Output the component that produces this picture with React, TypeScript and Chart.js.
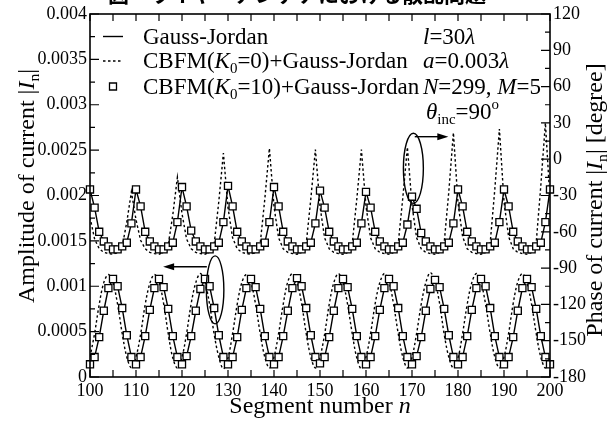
import React, { useEffect, useRef } from 'react';
import { Chart, registerables } from 'chart.js';

Chart.register(...registerables);

// ---------------- data ----------------
const segments = [
  100, 101, 102, 103, 104, 105, 106, 107, 108, 109,
  110, 111, 112, 113, 114, 115, 116, 117, 118, 119,
  120, 121, 122, 123, 124, 125, 126, 127, 128, 129,
  130, 131, 132, 133, 134, 135, 136, 137, 138, 139,
  140, 141, 142, 143, 144, 145, 146, 147, 148, 149,
  150, 151, 152, 153, 154, 155, 156, 157, 158, 159,
  160, 161, 162, 163, 164, 165, 166, 167, 168, 169,
  170, 171, 172, 173, 174, 175, 176, 177, 178, 179,
  180, 181, 182, 183, 184, 185, 186, 187, 188, 189,
  190, 191, 192, 193, 194, 195, 196, 197, 198, 199,
  200,
];

// Amplitude |I_n| (left axis)
const gjAmplitude = [
  0.00014, 0.00022, 0.00044, 0.00073, 0.00098, 0.00108, 0.00100, 0.00076, 0.00046, 0.00022,
  0.00014, 0.00022, 0.00045, 0.00074, 0.00098, 0.00108, 0.00099, 0.00075, 0.00045, 0.00022,
  0.00014, 0.00023, 0.00045, 0.00073, 0.00097, 0.00108, 0.00100, 0.00076, 0.00046, 0.00022,
  0.00014, 0.00022, 0.00044, 0.00074, 0.00098, 0.00108, 0.00099, 0.00075, 0.00045, 0.00022,
  0.00014, 0.00022, 0.00045, 0.00073, 0.00098, 0.00109, 0.00100, 0.00076, 0.00046, 0.00022,
  0.00015, 0.00022, 0.00044, 0.00073, 0.00098, 0.00108, 0.00099, 0.00075, 0.00045, 0.00022,
  0.00014, 0.00022, 0.00045, 0.00074, 0.00098, 0.00108, 0.00100, 0.00076, 0.00045, 0.00022,
  0.00014, 0.00023, 0.00044, 0.00073, 0.00097, 0.00107, 0.00099, 0.00075, 0.00046, 0.00022,
  0.00014, 0.00022, 0.00045, 0.00074, 0.00098, 0.00108, 0.00100, 0.00076, 0.00045, 0.00022,
  0.00014, 0.00022, 0.00044, 0.00073, 0.00098, 0.00108, 0.00099, 0.00075, 0.00045, 0.00022,
  0.00014,
];

const cbfm0Amplitude = [
  0.00022, 0.00048, 0.00080, 0.00104, 0.00113, 0.00104, 0.00080, 0.00048, 0.00022, 0.00010,
  0.00022, 0.00047, 0.00080, 0.00103, 0.00113, 0.00105, 0.00081, 0.00048, 0.00021, 0.00010,
  0.00022, 0.00048, 0.00081, 0.00104, 0.00114, 0.00104, 0.00080, 0.00047, 0.00022, 0.00009,
  0.00021, 0.00048, 0.00080, 0.00104, 0.00113, 0.00104, 0.00080, 0.00048, 0.00022, 0.00010,
  0.00022, 0.00048, 0.00080, 0.00105, 0.00114, 0.00105, 0.00081, 0.00048, 0.00022, 0.00010,
  0.00022, 0.00047, 0.00080, 0.00104, 0.00114, 0.00104, 0.00080, 0.00048, 0.00021, 0.00009,
  0.00022, 0.00048, 0.00081, 0.00104, 0.00114, 0.00105, 0.00080, 0.00048, 0.00022, 0.00010,
  0.00022, 0.00048, 0.00080, 0.00104, 0.00115, 0.00105, 0.00081, 0.00047, 0.00022, 0.00010,
  0.00021, 0.00048, 0.00080, 0.00104, 0.00114, 0.00104, 0.00080, 0.00048, 0.00022, 0.00010,
  0.00022, 0.00048, 0.00081, 0.00105, 0.00114, 0.00104, 0.00080, 0.00048, 0.00022, 0.00010,
  0.00022,
];

const cbfm10Amplitude = [
  0.00014, 0.00022, 0.00044, 0.00073, 0.00098, 0.00108, 0.00100, 0.00076, 0.00046, 0.00022,
  0.00014, 0.00022, 0.00045, 0.00074, 0.00098, 0.00108, 0.00099, 0.00075, 0.00045, 0.00022,
  0.00014, 0.00023, 0.00045, 0.00073, 0.00097, 0.00108, 0.00100, 0.00076, 0.00046, 0.00022,
  0.00014, 0.00022, 0.00044, 0.00074, 0.00098, 0.00108, 0.00099, 0.00075, 0.00045, 0.00022,
  0.00014, 0.00022, 0.00045, 0.00073, 0.00098, 0.00109, 0.00100, 0.00076, 0.00046, 0.00022,
  0.00015, 0.00022, 0.00044, 0.00073, 0.00098, 0.00108, 0.00099, 0.00075, 0.00045, 0.00022,
  0.00014, 0.00022, 0.00045, 0.00074, 0.00098, 0.00108, 0.00100, 0.00076, 0.00045, 0.00022,
  0.00014, 0.00023, 0.00044, 0.00073, 0.00097, 0.00107, 0.00099, 0.00075, 0.00046, 0.00022,
  0.00014, 0.00022, 0.00045, 0.00074, 0.00098, 0.00108, 0.00100, 0.00076, 0.00045, 0.00022,
  0.00014, 0.00022, 0.00044, 0.00073, 0.00098, 0.00108, 0.00099, 0.00075, 0.00045, 0.00022,
  0.00014,
];

// Phase of I_n in degrees (right axis)
const gjPhase = [
  -25, -40, -60, -68, -72, -74.5, -74.5, -72, -69, -53,
  -25, -39, -60, -68, -72, -74.5, -74.5, -72, -69, -52,
  -23, -39, -59, -68, -72, -74.5, -74.5, -72, -69, -52,
  -22, -39, -60, -68, -72, -74.5, -74.5, -72, -69, -52,
  -23, -39, -60, -68, -72, -74.5, -74.5, -72, -69, -53,
  -26, -40, -60, -68, -72, -74.5, -74.5, -72, -69, -53,
  -27, -40, -60, -68, -72, -74.5, -74.5, -72, -69, -54,
  -31, -41, -61, -68, -72, -74.5, -74.5, -72, -69, -53,
  -25, -39, -60, -68, -72, -74.5, -74.5, -72, -69, -52,
  -25, -39, -60, -68, -72, -74.5, -74.5, -72, -69, -52,
  -25,
];

const cbfm0Phase = [
  -48, -66, -74, -77, -78, -78.5, -77, -72, -52, -27,
  -50, -67, -74, -77, -78, -78.5, -77, -71, -46, -15,
  -45, -66, -74, -77, -78, -78.5, -77, -70, -35, 5,
  -40, -65, -74, -77, -78, -78.5, -77, -70, -33, 9,
  -39, -65, -74, -77, -78, -78.5, -77, -70, -33, 8,
  -39, -65, -74, -77, -78, -78.5, -77, -70, -33, 8,
  -39, -65, -74, -77, -78, -78.5, -77, -70, -32, 10,
  -38, -65, -74, -77, -78, -78.5, -77, -69, -27, 22,
  -36, -64, -74, -77, -78, -78.5, -77, -69, -25, 25,
  -35, -64, -74, -77, -78, -78.5, -77, -69, -22, 30,
  -34,
];

const cbfm10Phase = [
  -25, -40, -60, -68, -72, -74.5, -74.5, -72, -69, -53,
  -25, -39, -60, -68, -72, -74.5, -74.5, -72, -69, -52,
  -23, -39, -59, -68, -72, -74.5, -74.5, -72, -69, -52,
  -22, -39, -60, -68, -72, -74.5, -74.5, -72, -69, -52,
  -23, -39, -60, -68, -72, -74.5, -74.5, -72, -69, -53,
  -26, -40, -60, -68, -72, -74.5, -74.5, -72, -69, -53,
  -27, -40, -60, -68, -72, -74.5, -74.5, -72, -69, -54,
  -31, -41, -61, -68, -72, -74.5, -74.5, -72, -69, -53,
  -25, -39, -60, -68, -72, -74.5, -74.5, -72, -69, -52,
  -25, -39, -60, -68, -72, -74.5, -74.5, -72, -69, -52,
  -25,
];

// axes
const xMin = 100, xMax = 200, xStep = 10, xMinorStep = 5;
const ampMin = 0, ampMax = 0.004, ampStep = 0.0005, ampMinorStep = 0.00025;
const phMin = -180, phMax = 120, phStep = 30, phMinorStep = 15;

// texts
const legendLabels = [
  [{ t: 'Gauss-Jordan' }],
  [{ t: 'CBFM(' }, { t: 'K', i: true }, { t: '0', sub: true }, { t: '=0)+Gauss-Jordan' }],
  [{ t: 'CBFM(' }, { t: 'K', i: true }, { t: '0', sub: true }, { t: '=10)+Gauss-Jordan' }],
];
const paramLines = [
  [{ t: 'l', i: true }, { t: '=30' }, { t: 'λ', i: true }],
  [{ t: 'a', i: true }, { t: '=0.003' }, { t: 'λ', i: true }],
  [{ t: 'N', i: true }, { t: '=299, ' }, { t: 'M', i: true }, { t: '=5' }],
  [{ t: 'θ', i: true }, { t: 'inc', sub: true }, { t: '=90' }, { t: 'o', sup: true }],
];
const xTitle = [{ t: 'Segment number ' }, { t: 'n', i: true }];
const yTitle = [{ t: 'Amplitude of current |' }, { t: 'I', i: true }, { t: 'n', sub: true }, { t: '|' }];
const y1Title = [{ t: 'Phase of current |' }, { t: 'I', i: true }, { t: 'n', sub: true }, { t: '| [degree]' }];
const figTitle = '図　ワイヤーアンテナにおける散乱問題';

// annotation anchors (data space)
const phaseEllipse = { n: 170.3, v: -7.5, rn: 2.17, rv: 29, arrowV: 18.6, arrowFrom: 170.6, arrowTo: 177.9 };
const ampEllipse = { n: 127.2, v: 0.00096, rn: 1.9, rv: 0.000375, arrowV: 0.001215, arrowFrom: 125.4, arrowTo: 115.9 };

const SERIF = '"Liberation Serif", "Times New Roman", serif';

type Part = { t: string; i?: boolean; sub?: boolean; sup?: boolean };

function setFont(ctx: CanvasRenderingContext2D, p: Part, size: number) {
  const fs = p.sub || p.sup ? size * 0.65 : size;
  ctx.font = `${p.i ? 'italic ' : ''}${fs}px ${SERIF}`;
}
function richWidth(ctx: CanvasRenderingContext2D, parts: Part[], size: number) {
  let w = 0;
  for (const p of parts) {
    setFont(ctx, p, size);
    w += ctx.measureText(p.t).width;
  }
  return w;
}
function drawRich(ctx: CanvasRenderingContext2D, parts: Part[], x: number, y: number, size: number) {
  ctx.textAlign = 'left';
  ctx.textBaseline = 'alphabetic';
  for (const p of parts) {
    setFont(ctx, p, size);
    const dy = p.sub ? size * 0.22 : p.sup ? -size * 0.42 : 0;
    ctx.fillText(p.t, x, y + dy);
    x += ctx.measureText(p.t).width;
  }
  return x;
}

const overlay = {
  id: 'overlay',
  afterDatasetsDraw(chart: any) {
    const { ctx, chartArea: ca, scales } = chart;
    const sx = scales.x, sy = scales.y, sy1 = scales.y1;
    ctx.save();
    ctx.strokeStyle = '#000';
    ctx.fillStyle = '#000';
    ctx.setLineDash([]);

    // frame
    ctx.lineWidth = 1.6;
    ctx.strokeRect(ca.left, ca.top, ca.right - ca.left, ca.bottom - ca.top);

    // inward ticks
    ctx.lineWidth = 1.2;
    ctx.beginPath();
    for (let v = xMin; v <= xMax + 1e-9; v += xMinorStep) {
      const px = sx.getPixelForValue(v);
      ctx.moveTo(px, ca.bottom); ctx.lineTo(px, ca.bottom - 7);
      ctx.moveTo(px, ca.top); ctx.lineTo(px, ca.top + 7);
    }
    for (let k = 0; ampMin + k * ampMinorStep <= ampMax + 1e-12; k++) {
      const v = ampMin + k * ampMinorStep;
      const py = sy.getPixelForValue(v);
      const len = k % 2 === 0 ? 9 : 5;
      ctx.moveTo(ca.left, py); ctx.lineTo(ca.left + len, py);
    }
    for (let k = 0; phMin + k * phMinorStep <= phMax + 1e-9; k++) {
      const v = phMin + k * phMinorStep;
      const py = sy1.getPixelForValue(v);
      const len = k % 2 === 0 ? 9 : 5;
      ctx.moveTo(ca.right, py); ctx.lineTo(ca.right - len, py);
    }
    ctx.stroke();

    // legend
    const legendSize = 23;
    const legendX = 143;
    const rowBase = [43.5, 68, 93.5, 119];
    legendLabels.forEach((parts, i) => {
      const by = rowBase[i];
      const my = by - 7;
      ctx.fillStyle = '#000';
      drawRich(ctx, parts as Part[], legendX, by, legendSize);
      ctx.lineWidth = 1.4;
      ctx.beginPath();
      if (i === 0) {
        ctx.setLineDash([]);
        ctx.moveTo(103, my); ctx.lineTo(123, my); ctx.stroke();
      } else if (i === 1) {
        ctx.setLineDash([2.5, 2.5]);
        ctx.moveTo(103, my); ctx.lineTo(123, my); ctx.stroke();
        ctx.setLineDash([]);
      } else {
        ctx.setLineDash([]);
        ctx.fillStyle = '#fff';
        ctx.lineWidth = 1.3;
        ctx.rect(113 - 3.5, my - 3.5, 7, 7);
        ctx.fill(); ctx.stroke();
        ctx.fillStyle = '#000';
      }
    });
    paramLines.forEach((parts, i) => {
      drawRich(ctx, parts as Part[], i === 3 ? 426 : 423, rowBase[i], legendSize);
    });

    // annotations
    ctx.lineWidth = 1.4;
    ctx.setLineDash([]);
    const drawAnno = (e: any, sc: any, dir: number) => {
      const cx = sx.getPixelForValue(e.n);
      const cy = sc.getPixelForValue(e.v);
      const rx = Math.abs(sx.getPixelForValue(e.n + e.rn) - cx);
      const ry = Math.abs(sc.getPixelForValue(e.v + e.rv) - cy);
      ctx.beginPath();
      ctx.ellipse(cx, cy, rx, ry, 0, 0, Math.PI * 2);
      ctx.stroke();
      const ay = sc.getPixelForValue(e.arrowV);
      const ax0 = sx.getPixelForValue(e.arrowFrom);
      const ax1 = sx.getPixelForValue(e.arrowTo);
      ctx.beginPath();
      ctx.moveTo(ax0, ay); ctx.lineTo(ax1 - dir * 8, ay); ctx.stroke();
      ctx.beginPath();
      ctx.moveTo(ax1, ay);
      ctx.lineTo(ax1 - dir * 11, ay - 3.5);
      ctx.lineTo(ax1 - dir * 11, ay + 3.5);
      ctx.closePath();
      ctx.fill();
    };
    drawAnno(phaseEllipse, sy1, 1);
    drawAnno(ampEllipse, sy, -1);

    // axis titles
    const tSize = 24;
    const wx = richWidth(ctx, xTitle as Part[], tSize);
    drawRich(ctx, xTitle as Part[], (ca.left + ca.right) / 2 - wx / 2, 413, tSize);

    const wy = richWidth(ctx, yTitle as Part[], tSize);
    ctx.save();
    ctx.translate(34, 186);
    ctx.rotate(-Math.PI / 2);
    drawRich(ctx, yTitle as Part[], -wy / 2, 0, tSize);
    ctx.restore();

    const wy1 = richWidth(ctx, y1Title as Part[], tSize);
    ctx.save();
    ctx.translate(602, 200);
    ctx.rotate(-Math.PI / 2);
    drawRich(ctx, y1Title as Part[], -wy1 / 2, 0, tSize);
    ctx.restore();

    // clipped figure title
    ctx.font = `bold 21px "Noto Sans CJK JP", sans-serif`;
    ctx.textAlign = 'left';
    ctx.textBaseline = 'alphabetic';
    ctx.fillText(figTitle, 108, 2);

    ctx.restore();
  },
};

const tickFont = { family: SERIF, size: 18 };

export default function App() {
  const ref = useRef<HTMLCanvasElement | null>(null);
  useEffect(() => {
    document.body.style.margin = '0';
    const canvas = ref.current!;
    const pts = (arr: number[]) => segments.map((n, i) => ({ x: n, y: arr[i] }));
    const chart = new Chart(canvas, {
      type: 'line',
      data: {
        datasets: [
          { label: 'CBFM(K0=10) amp', data: pts(cbfm10Amplitude), yAxisID: 'y', showLine: false, pointStyle: 'rect', pointRadius: 5, pointBorderWidth: 1.3, pointBorderColor: '#000', pointBackgroundColor: '#fff', order: 0, clip: 8 } as any,
          { label: 'CBFM(K0=10) phase', data: pts(cbfm10Phase), yAxisID: 'y1', showLine: false, pointStyle: 'rect', pointRadius: 5, pointBorderWidth: 1.3, pointBorderColor: '#000', pointBackgroundColor: '#fff', order: 0, clip: 8 } as any,
          { label: 'GJ amp', data: pts(gjAmplitude), yAxisID: 'y', borderColor: '#000', borderWidth: 1.4, pointRadius: 0, tension: 0, order: 1 },
          { label: 'GJ phase', data: pts(gjPhase), yAxisID: 'y1', borderColor: '#000', borderWidth: 1.4, pointRadius: 0, tension: 0, order: 1 },
          { label: 'CBFM(K0=0) amp', data: pts(cbfm0Amplitude), yAxisID: 'y', borderColor: '#000', borderWidth: 1.4, borderDash: [2.5, 2.5], pointRadius: 0, tension: 0.35, order: 2 },
          { label: 'CBFM(K0=0) phase', data: pts(cbfm0Phase), yAxisID: 'y1', borderColor: '#000', borderWidth: 1.4, borderDash: [2.5, 2.5], pointRadius: 0, tension: 0, order: 2 },
        ],
      },
      options: {
        responsive: false,
        animation: false,
        devicePixelRatio: 1,
        layout: { padding: { top: 14, left: 0, right: 0, bottom: 0 } },
        plugins: { legend: { display: false }, tooltip: { enabled: false }, title: { display: false } },
        scales: {
          x: {
            type: 'linear', min: xMin, max: xMax,
            grid: { display: false, drawTicks: false },
            border: { display: false },
            ticks: { stepSize: xStep, font: tickFont, color: '#000', padding: 3, maxRotation: 0, autoSkip: false, callback: (v: any) => String(v) },
            afterFit: (s: any) => { s.height = 44; },
          },
          y: {
            type: 'linear', position: 'left', min: ampMin, max: ampMax,
            grid: { display: false, drawTicks: false },
            border: { display: false },
            ticks: { stepSize: ampStep, font: tickFont, color: '#000', padding: 3, autoSkip: false, callback: (v: any) => (v === 0 ? '0' : String(+Number(v).toFixed(4))) },
            afterFit: (s: any) => { s.width = 90; },
          },
          y1: {
            type: 'linear', position: 'right', min: phMin, max: phMax,
            grid: { display: false, drawTicks: false },
            border: { display: false },
            ticks: { stepSize: phStep, font: tickFont, color: '#000', padding: 3, autoSkip: false, callback: (v: any) => String(v) },
            afterFit: (s: any) => { s.width = 60; },
          },
        },
      } as any,
      plugins: [overlay],
    });
    return () => chart.destroy();
  }, []);
  return (
    <div style={{ width: 610, height: 421, background: '#fff' }}>
      <canvas ref={ref} width={610} height={421} />
    </div>
  );
}
